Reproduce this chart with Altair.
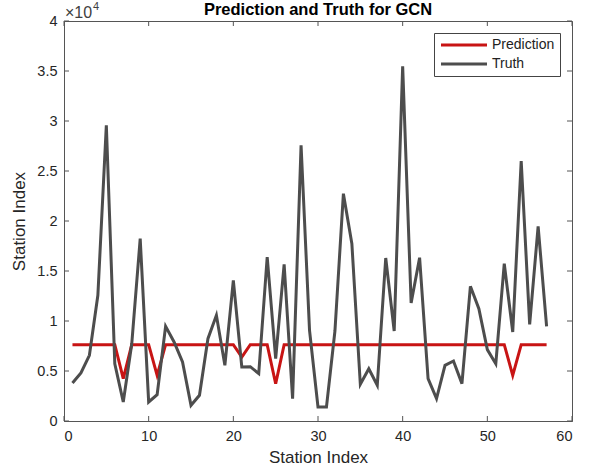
import altair as alt
import pandas as pd

station = list(range(1, 58))
truth = [3800, 4800, 6570, 12570, 29570, 5730, 1900, 7700, 18230, 1900,
         2630, 9470, 7900, 5900, 1570, 2570, 8230, 10570, 5570, 14070,
         5400, 5430, 4740, 16400, 6230, 15670, 2240, 27570, 9070, 1400,
         1400, 9000, 22730, 17730, 3670, 5230, 3570, 16300, 9000, 35470,
         11800, 16330, 4240, 2240, 5570, 6000, 3740, 13470, 11240, 7140,
         5730, 15730, 8900, 26000, 9670, 19470, 9470]
base_pred = 7630
pred = [base_pred] * 57
pred[7 - 1] = 4230
pred[11 - 1] = 4570
pred[21 - 1] = 6400
pred[25 - 1] = 3730
pred[53 - 1] = 4570

x_ticks = [0, 10, 20, 30, 40, 50, 60]
y_ticks = [0, 5000, 10000, 15000, 20000, 25000, 30000, 35000, 40000]
series_names = ["Prediction", "Truth"]
series_colors = ["#C81414", "#4D4D4D"]

df = pd.DataFrame({
    "x": station * 2,
    "y": pred + truth,
    "series": ["Prediction"] * 57 + ["Truth"] * 57,
})

W, H = 508, 400
AX = "#555555"
FONT = "Liberation Sans"

xs = alt.Scale(domain=[0, 60], nice=False, zero=False)
ys = alt.Scale(domain=[0, 40000], nice=False)

lines = alt.Chart(df).mark_line(strokeWidth=3, strokeJoin="miter", clip=True).encode(
    x=alt.X("x:Q", scale=xs, axis=alt.Axis(values=x_ticks, title="Station Index",
                                            tickSize=0, labelPadding=8, titlePadding=7)),
    y=alt.Y("y:Q", scale=ys, axis=alt.Axis(values=y_ticks, title="Station Index",
                                            tickSize=0, labelPadding=7, titlePadding=8,
                                            labelExpr="'' + datum.value/10000")),
    color=alt.Color("series:N", scale=alt.Scale(domain=series_names, range=series_colors),
                    legend=alt.Legend(title=None, orient="none", legendX=370, legendY=12,
                                      symbolType="M-1,0L8.2,0", symbolStrokeWidth=3,
                                      symbolSize=100, labelFontSize=14, labelFont=FONT,
                                      labelColor="#222222",
                                      strokeColor="#444444", fillColor="white",
                                      padding=5, rowPadding=5, labelOffset=39)),
)

xt = pd.DataFrame({"x": x_ticks})
yt = pd.DataFrame({"y": y_ticks})

bt = alt.Chart(xt).mark_rule(color=AX, strokeWidth=1).encode(
    x=alt.X("x:Q", scale=xs), y=alt.value(H), y2=alt.value(H - 5))
tt = alt.Chart(xt).mark_rule(color=AX, strokeWidth=1).encode(
    x=alt.X("x:Q", scale=xs), y=alt.value(0), y2=alt.value(5))
lt = alt.Chart(yt).mark_rule(color=AX, strokeWidth=1).encode(
    y=alt.Y("y:Q", scale=ys), x=alt.value(0), x2=alt.value(5))
rt = alt.Chart(yt).mark_rule(color=AX, strokeWidth=1).encode(
    y=alt.Y("y:Q", scale=ys), x=alt.value(W - 5), x2=alt.value(W))

title_df = pd.DataFrame({"t": ["Prediction and Truth for GCN"]})
title = alt.Chart(title_df).mark_text(align="center", baseline="middle", fontSize=16.5,
                                      font=FONT, fontWeight="bold", color="black").encode(
    x=alt.value(W / 2), y=alt.value(-11), text="t:N")

exp_df = pd.DataFrame({"t": ["\u00d710"]})
exp1 = alt.Chart(exp_df).mark_text(align="left", baseline="alphabetic", fontSize=16,
                                   font=FONT, color="#404040").encode(
    x=alt.value(1), y=alt.value(-3.5), text="t:N")
exp_df2 = pd.DataFrame({"t": ["4"]})
exp2 = alt.Chart(exp_df2).mark_text(align="left", baseline="alphabetic", fontSize=11,
                                    font=FONT, color="#404040").encode(
    x=alt.value(29), y=alt.value(-11), text="t:N")

chart = alt.layer(lines, bt, tt, lt, rt, title, exp1, exp2).properties(
    width=W, height=H,
    autosize=alt.AutoSizeParams(type="none"),
    padding={"left": 64, "top": 21, "right": 23, "bottom": 54},
).configure_axis(
    domainColor=AX, labelColor="#262626", labelFont=FONT, labelFontSize=14.5,
    titleFont=FONT, titleFontSize=17, titleColor="#262626", titleFontWeight="normal",
    grid=False,
).configure_view(stroke=AX, strokeWidth=1)

chart.save("out.html", embed_options={"renderer": "svg", "actions": False})
